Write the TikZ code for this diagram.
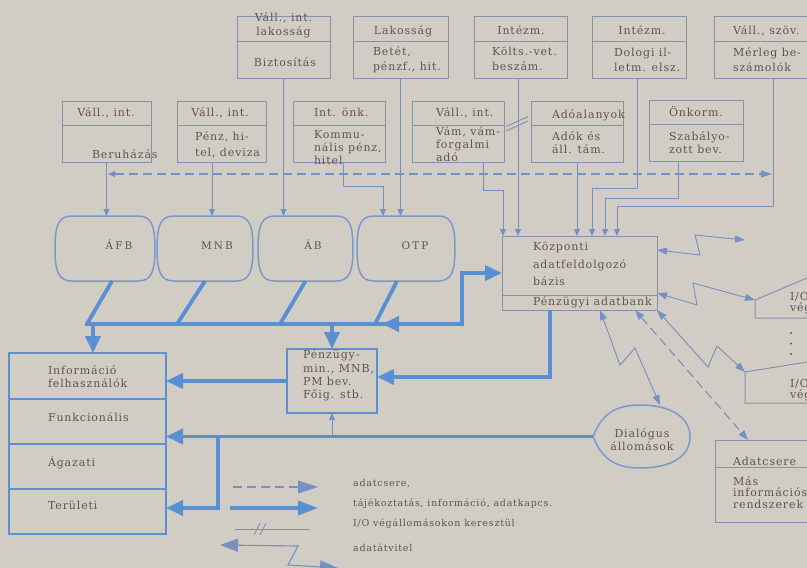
\documentclass[tikz,border=0pt]{standalone}
\usepackage{fontspec}
\newfontfamily\df[LetterSpace=8]{DejaVu Serif}
\newfontfamily\dfw[LetterSpace=20]{DejaVu Serif}
\usetikzlibrary{arrows.meta,calc}
\definecolor{bgc}{HTML}{D1CDC4}
\definecolor{thk}{HTML}{5A8FD2}
\definecolor{thn}{HTML}{7690C2}
\definecolor{boxc}{HTML}{8593AA}
\definecolor{txtc}{HTML}{5F5252}
\definecolor{bankc}{HTML}{7B9ACB}
\newcommand\bankdraw[1]{%
  \draw[bankline] ($(#1.north west)+(17,0)$) -- ($(#1.north east)+(-17,0)$)
    .. controls ($(#1.north east)+(-4,0)$) and ($(#1.east)+(0,-24)$) .. (#1.east)
    .. controls ($(#1.east)+(0,24)$) and ($(#1.south east)+(-4,0)$) .. ($(#1.south east)+(-17,0)$)
    -- ($(#1.south west)+(17,0)$)
    .. controls ($(#1.south west)+(4,0)$) and ($(#1.west)+(0,24)$) .. (#1.west)
    .. controls ($(#1.west)+(0,-24)$) and ($(#1.north west)+(4,0)$) .. ($(#1.north west)+(17,0)$) -- cycle;}
\begin{document}
\begin{tikzpicture}[x=1pt,y=-1pt,
  box/.style={draw=boxc,line width=1pt,inner sep=0pt,outer sep=0pt},
  holder/.style={inner sep=0pt,outer sep=0pt},
  boxline/.style={draw=boxc,line width=1pt},
  bankline/.style={draw=bankc,line width=1.5pt},
  txt/.style={text=txtc,font=\df\fontsize{11}{12}\selectfont,inner sep=0pt,outer sep=0pt},
  L/.style={txt,anchor=base west},
  C/.style={txt,anchor=base},
  banktxt/.style={text=txtc,font=\dfw\fontsize{10.5}{11}\selectfont,inner sep=0pt,anchor=base},
  legtxt/.style={text=txtc,font=\df\fontsize{9.5}{11}\selectfont,inner sep=0pt,anchor=base west},
  thinline/.style={draw=thn,line width=0.9pt},
  thinarrow/.style={thinline,-{Triangle[length=7pt,width=6pt]}},
  zig/.style={thinline,{Triangle[length=10pt,width=7pt]}-{Triangle[length=10pt,width=7pt]}},
  dashline/.style={draw=thn,line width=1.1pt,dash pattern=on 9pt off 5pt},
  thickline/.style={draw=thk,line width=3.8pt},
  thickarrow/.style={thickline,-{Triangle[length=17pt,width=15pt]}},
  bluebox/.style={draw=thk,line width=2.5pt,inner sep=0pt,outer sep=0pt}
]
\useasboundingbox (0,0) rectangle (807,568);
\clip (0,0) rectangle (807,568);
\fill[bgc] (0,0) rectangle (807,568);

% ---------- top row boxes ----------
\node[box,minimum width=93pt,minimum height=62pt] (T1) at (283.5,47) {};
\node[box,minimum width=95pt,minimum height=62pt] (T2) at (400.5,47) {};
\node[box,minimum width=93pt,minimum height=62pt] (T3) at (520.5,47) {};
\node[box,minimum width=94pt,minimum height=62pt] (T4) at (639,47) {};
\node[box,minimum width=118pt,minimum height=62pt] (T5) at (773,47) {};
\foreach \n in {T1,T2,T3,T4,T5}
  \draw[boxline] ([yshift=5.5pt]\n.west) -- ([yshift=5.5pt]\n.east);

\node[C] (t1a) at (283.5,21.5) {Váll., int.};
\node[C] (t1b) at (283.5,35.5) {lakosság};
\node[C] (t1c) at (285,66.5) {Biztosítás};
\node[C] (t2a) at (403,34) {Lakosság};
\node[L] (t2b) at (373,55.5) {Betét,};
\node[L] (t2c) at (373,70.5) {pénzf., hit.};
\node[C] (t3a) at (521,34) {Intézm.};
\node[L] (t3b) at (492,55.5) {Költs.-vet.};
\node[L] (t3c) at (492,70.5) {beszám.};
\node[C] (t4a) at (642,34) {Intézm.};
\node[L] (t4b) at (614,56) {Dologi il-};
\node[L] (t4c) at (614,71) {letm. elsz.};
\node[L] (t5a) at (733,34.5) {Váll., szöv.};
\node[L] (t5b) at (733,56) {Mérleg be-};
\node[L] (t5c) at (733,71) {számolók};

% ---------- second row boxes ----------
\node[box,minimum width=89pt,minimum height=61pt] (A) at (106.5,131.5) {};
\node[box,minimum width=89pt,minimum height=61pt] (B) at (221.5,131.5) {};
\node[box,minimum width=92pt,minimum height=61pt] (Cb) at (339,131.5) {};
\node[box,minimum width=92pt,minimum height=61pt] (D) at (458,131.5) {};
\node[box,minimum width=92pt,minimum height=61pt] (E) at (577,131.5) {};
\node[box,minimum width=94pt,minimum height=61pt] (F) at (696,130.5) {};
\foreach \n in {A,B,Cb,D,E,F}
  \draw[boxline] ([yshift=6.5pt]\n.west) -- ([yshift=6.5pt]\n.east);

\node[C] (aa) at (106,116.5) {Váll., int.};
\node[L] (ab1) at (92,158.5) {Beruházás};
\node[C] (ba) at (220,116.5) {Váll., int.};
\node[L] (bb) at (195,140.5) {Pénz, hi-};
\node[L] (bc) at (195,156.5) {tel, deviza};
\node[L] (ca) at (314,116.5) {Int. önk.};
\node[L] (cb) at (314,138.5) {Kommu-};
\node[L] (cc) at (314,151.5) {nális pénz,};
\node[L] (cd) at (314,164.5) {hitel};
\node[L] (da) at (436,116.5) {Váll., int.};
\node[L] (db) at (436,135.5) {Vám, vám-};
\node[L] (dc) at (436,148.5) {forgalmi};
\node[L] (dd) at (436,161.5) {adó};
\node[L] (ea) at (552,118) {Adóalanyok};
\node[L] (eb) at (552,140.5) {Adók és};
\node[L] (ec) at (552,153.5) {áll. tám.};
\node[L] (fa) at (669,116.5) {Önkorm.};
\node[L] (fb) at (669,140.5) {Szabályo-};
\node[L] (fc) at (669,153.5) {zott bev.};

% ---------- banks ----------
\node[holder,minimum width=100pt,minimum height=65pt] (afb) at (105,248.5) {};
\node[holder,minimum width=96pt,minimum height=65pt] (mnb) at (205,248.5) {};
\node[holder,minimum width=95pt,minimum height=65pt] (abk) at (305.5,248.5) {};
\node[holder,minimum width=98pt,minimum height=65pt] (otp) at (406,248.5) {};
\bankdraw{afb}\bankdraw{mnb}\bankdraw{abk}\bankdraw{otp}
\node[banktxt] (afbt) at (119,249.5) {ÁFB};
\node[banktxt] (mnbt) at (217,249.5) {MNB};
\node[banktxt] (abt) at (313,249.5) {ÁB};
\node[banktxt] (otpt) at (415,249.5) {OTP};

% ---------- central box ----------
\node[box,minimum width=155pt,minimum height=74pt] (K) at (579.5,273) {};
\draw[boxline] ([yshift=-22pt]K.west) -- ([yshift=-22pt]K.east);
\node[L] (k1) at (533,250) {Központi};
\node[L] (k2) at (533,268) {adatfeldolgozó};
\node[L] (k3) at (533,285.5) {bázis};
\node[L] (k4) at (533,305) {Pénzügyi adatbank};

% ---------- thin connectors from the sources ----------
\draw[thinarrow] (A.south) -- (A.south |- afb.north);
\draw[thinarrow] ([xshift=-9.5pt]B.south) -- ([xshift=-9.5pt]B.south |- mnb.north);
\draw[thinarrow] (T1.south) -- (T1.south |- abk.north);
\draw[thinarrow] (T2.south) -- (T2.south |- otp.north);
\draw[thinarrow] ([xshift=4pt]Cb.south) -- ++(0,24) -| ([xshift=-23pt]otp.north);
\draw[thinarrow] ([xshift=25pt]D.south) -- ++(0,28) -| ([xshift=-76.5pt]K.north);
\draw[thinarrow] ([xshift=-2.5pt]T3.south) -- ([xshift=-2.5pt]T3.south |- K.north);
\draw[thinline] (506,131) -- (528,121);
\draw[thinline] (506,126.5) -- (528,116.5);
\draw[thinarrow] (E.south) -- (E.south |- K.north);
\draw[thinarrow] ([xshift=-2pt]T4.south) -- ++(0,110) -| ([xshift=12.5pt]K.north);
\draw[thinarrow] ([xshift=-18pt]F.south) -- ++(0,37) -| ([xshift=25.5pt]K.north);
\draw[thinarrow] (T5.south) -- ++(0,128) -| ([xshift=37.5pt]K.north);

% dashed horizontal
\coordinate (dl) at (108,174);
\coordinate (dr) at (772,174);
\draw[dashline,{Triangle[length=7pt,width=6pt]}-{Triangle[length=11pt,width=7pt]}] (dl) -- (dr);

% ---------- lower left blocks ----------
\node[bluebox,minimum width=157pt,minimum height=181pt] (I) at (87.5,443.5) {};
\draw[thk,line width=2pt] ([yshift=44.5pt]I.west) -- ([yshift=44.5pt]I.east);
\draw[thk,line width=2pt] ([yshift=-0.5pt]I.west) -- ([yshift=-0.5pt]I.east);
\draw[thk,line width=2pt] ([yshift=-45.5pt]I.west) -- ([yshift=-45.5pt]I.east);
\node[L] (i1) at (48,374) {Információ};
\node[L] (i2) at (48,387) {felhasználók};
\node[L] (i3) at (48,421.5) {Funkcionális};
\node[L] (i4) at (48,466) {Ágazati};
\node[L] (i5) at (48,509) {Területi};

\node[bluebox,minimum width=90pt,minimum height=64pt] (P) at (332,381) {};
\node[L] (p1) at (303,358) {Pénzügy-};
\node[L] (p2) at (303,372) {min., MNB,};
\node[L] (p3) at (303,385.5) {PM bev.};
\node[L] (p4) at (303,398.5) {Főig. stb.};

% thick bus
\coordinate (busL) at (85,324);
\coordinate (busR) at (462,324);
\draw[thickline] ([xshift=7pt]afb.south) -- ([xshift=-18pt]afb.south |- busL);
\draw[thickline] (mnb.south) -- ([xshift=-28pt]mnb.south |- busL);
\draw[thickline] (abk.south) -- ([xshift=-25.5pt]abk.south |- busL);
\draw[thickline] ([xshift=-9pt]otp.south) -- ([xshift=-31pt]otp.south |- busL);
\draw[thickarrow] (busL) -- (busR) |- (K.west);
\draw[thickarrow] ([xshift=-58pt]busR) -- ([xshift=-80pt]busR);
\coordinate (bi) at (93,324);
\draw[thickarrow] (bi) -- (bi |- I.north);
\draw[thickarrow] (P.north |- busL) -- (P.north);
\draw[thickarrow] ([xshift=-29.5pt]K.south) |- ([yshift=4pt]P.east);
\draw[thickarrow] (P.west) -- (P.west -| I.east);

% ---------- dialogue stations ----------
\node[holder,minimum width=97pt,minimum height=63pt] (dlg) at (641.5,436.5) {};
\draw[bankline] (593,436.5) .. controls (601,417) and (612,405) .. (640,405)
  .. controls (672,405) and (690,418) .. (690,437)
  .. controls (690,456) and (672,468) .. (640,468)
  .. controls (612,468) and (601,456) .. (593,436.5) -- cycle;
\node[C] (dg1) at (642,437) {Dialógus};
\node[C] (dg2) at (642,450.5) {állomások};
\coordinate (br) at (218,436.5);
\draw[thickarrow] (dlg.west) -- (dlg.west -| I.east);
\draw[thickarrow] (br) |- (I.east |- 0,508);
\draw[thinarrow] (P.south |- br) -- (P.south);

% ---------- right side: I/O terminals, exchange ----------
\coordinate (io1) at (755,300);
\coordinate (io2) at (745,372);
\draw[boxline] (840,264) -- (io1) -- (755,318) -- (840,318);
\draw[boxline] (840,356.7) -- (io2) -- (745,403) -- (840,403);
\node[L] (io1a) at (790,300) {I/O};
\node[L] (io1b) at (790,311) {vég-};
\node[L] (io2a) at (790,387.5) {I/O};
\node[L] (io2b) at (790,398.5) {vég-};
\fill[txtc] (791,333) circle (1.2);
\fill[txtc] (791,343.5) circle (1.2);
\fill[txtc] (791,354) circle (1.2);

\node[box,minimum width=125pt,minimum height=82pt] (Ad) at (777.5,481) {};
\draw[boxline] ([yshift=14pt]Ad.west) -- ([yshift=14pt]Ad.east);
\node[L] (ad1) at (733,465) {Adatcsere};
\node[L] (ad2) at (733,485) {Más};
\node[L] (ad3) at (733,496.5) {információs};
\node[L] (ad4) at (733,508.5) {rendszerek};

\coordinate (z1e) at (745,240);
\draw[zig] ([yshift=23pt]K.east) -- (700,255) -- (695,235) -- (z1e);
\draw[zig] ([yshift=-20pt]K.east) -- (697,305) -- (693,283) -- (io1);
\draw[zig] (K.south east) -- (708,367) -- (717,346) -- (io2);
\draw[zig] ([xshift=20.5pt]K.south) -- (620,365) -- (635,348) -- ([xshift=18.5pt]dlg.north);
\draw[dashline,{Triangle[length=10pt,width=7pt]}-{Triangle[length=10pt,width=7pt]}] ([xshift=55.5pt]K.south) -- ([xshift=-29.5pt]Ad.north);

% ---------- legend ----------
\coordinate (lg1a) at (233,487); \coordinate (lg1b) at (318,487);
\coordinate (lg2a) at (230,508); \coordinate (lg2b) at (318,508);
\coordinate (lg3a) at (235,529); \coordinate (lg3b) at (310,529);
\coordinate (lg4a) at (220,545); \coordinate (lg4b) at (338,568);
\draw[dashline,-{Triangle[length=20pt,width=13pt]}] (lg1a) -- (lg1b);
\draw[thickline,-{Triangle[length=20pt,width=14pt]}] (lg2a) -- (lg2b);
\draw[thinline] (lg3a) -- (lg3b);
\draw[thinline] (254,535) -- (260,523);
\draw[thinline] (260,535) -- (266,523);
\draw[thinline,line width=1.1pt,{Triangle[length=18pt,width=13pt]}-{Triangle[length=18pt,width=13pt]}] (lg4a) -- (298,546) -- (288,565) -- (lg4b);
\node[legtxt] (lt1) at (353,486) {adatcsere,};
\node[legtxt] (lt2) at (353,506) {tájékoztatás, információ, adatkapcs.};
\node[legtxt] (lt3) at (353,526) {I/O végállomásokon keresztül};
\node[legtxt] (lt4) at (353,551) {adatátvitel};
\end{tikzpicture}
\end{document}
